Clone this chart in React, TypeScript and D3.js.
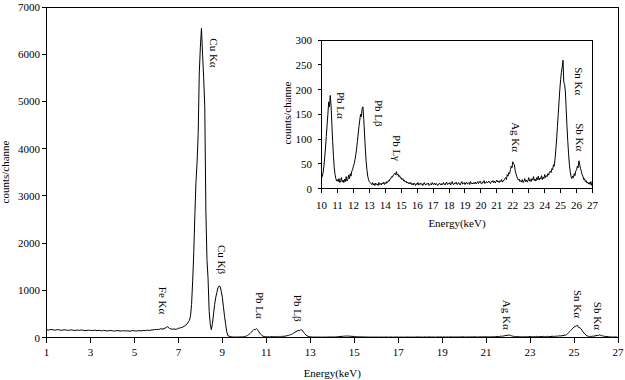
import React from "react";
import * as d3 from "d3";

// ---- spectrum data: each band = channel start energy (keV), channel step, counts ----
const lowStart = 1.0;
const lowStep = 0.1;
const lowCounts = [
  165, 158, 170, 162, 155, 168, 160, 152, 164, 158, 150,
  162, 155, 148, 158, 152, 160, 150, 145, 156, 150,
  148, 155, 145, 152, 140, 150, 143, 138, 150, 142,
  136, 148, 140, 135, 145, 138, 142, 132, 146, 140,
  138, 145, 140, 150, 146, 155, 150, 160, 165, 172,
  168, 185, 178, 200, 230, 190, 175, 180, 172, 195,
  205, 220, 250, 290,
];

const cuStart = 7.45;
const cuStep = 0.05;
const cuCounts = [
  330, 360, 450, 700, 1200, 1800, 2600, 3300, 3700, 4300, 5600, 6150, 6550,
  6000, 5500, 4900, 2700, 1650, 1250, 550, 280, 165, 300, 500, 700, 850, 950,
  1050, 1090, 1080, 980, 850, 650, 450, 280, 120, 40,
];

const highStart = 9.3;
const highStep = 0.05;
const countsA = [30, 20, 15, 12, 10, 12, 10, 11, 9, 12, 10, 13, 11, 15];
const countsB = [21, 25, 32, 45, 62, 82, 105, 128, 150, 175, 165, 188, 168, 130, 95, 65, 42, 28, 20, 15];
const countsC = [18, 14, 20, 12, 16, 22, 13, 17, 12, 19, 14, 24, 15, 18, 27, 20, 30, 25, 35, 38];
const countsD = [45, 50, 58, 68, 80, 95, 110, 125, 138, 150, 145, 162, 165, 140, 110, 80, 55, 38, 25, 18];
const countsE = [14, 12, 10, 8, 12, 7, 10, 6, 11, 8, 9, 6, 12, 8, 10, 7, 11, 9, 13, 8];
const countsF = [12, 10, 14, 12, 16, 15, 19, 20, 24, 23, 27, 28, 31, 28, 34, 27, 29, 24, 26, 21];
const countsG = [22, 18, 20, 15, 17, 13, 15, 11, 13, 10, 12, 9, 12, 8, 10, 7, 11, 9, 6, 10];
const countsH = [8, 12, 7, 9, 11, 8, 10, 6, 9, 12, 8, 7, 10, 9, 11, 6, 8, 10, 7, 12];
const countsI = [9, 8, 11, 7, 10, 9, 6, 8, 11, 9, 7, 10, 8, 12, 9, 7, 11, 13, 8, 10];
const countsJ = [9, 12, 7, 10, 14, 9, 8, 11, 10, 13, 8, 9, 12, 10, 7, 11, 14, 9, 10, 12];
const countsK = [8, 11, 13, 9, 10, 12, 8, 14, 10, 11, 9, 12, 10, 13, 9, 11, 14, 10, 12, 15];
const countsL = [11, 9, 13, 12, 16, 10, 12, 14, 11, 13, 15, 12, 10, 14, 13, 16, 12, 15, 11, 14];
const countsM = [17, 13, 15, 12, 16, 14, 18, 13, 15, 17, 20, 22, 18, 28, 25, 32, 30, 38, 45, 42];
const countsN = [54, 50, 48, 36, 30, 24, 20, 17, 19, 14, 16, 13, 18, 12, 15, 20, 14, 17, 13, 16];
const countsO = [22, 15, 18, 14, 20, 17, 24, 16, 19, 15, 22, 18, 25, 17, 21, 19, 26, 18, 23, 20];
const countsP = [28, 22, 26, 24, 30, 27, 33, 35, 32, 40, 38, 48, 45, 60, 78, 100, 125, 150, 175, 200];
const countsQ = [220, 235, 245, 259, 215, 210, 195, 160, 125, 95, 70, 48, 35, 25, 20, 25, 22, 30, 26, 35];
const countsR = [38, 45, 42, 56, 48, 40, 35, 28, 25, 18, 20, 14, 16, 11, 13, 9, 12, 8, 14, 6, 5];

// ---- axes ----
const mainXTicks = [1, 3, 5, 7, 9, 11, 13, 15, 17, 19, 21, 23, 25, 27];
const mainYTicks = [0, 1000, 2000, 3000, 4000, 5000, 6000, 7000];
const insetXTicks = [10, 11, 12, 13, 14, 15, 16, 17, 18, 19, 20, 21, 22, 23, 24, 25, 26, 27];
const insetYTicks = [0, 50, 100, 150, 200, 250, 300];
const xTitle = "Energy(keV)";
const yTitle = "counts/channe";

// ---- peak labels: text, energy, count (top of label) ----
const mainLabels: [string, number, number][] = [
  ["Cu Kα", 8.6, 6336],
  ["Cu Kβ", 8.97, 1960],
  ["Fe Kα", 6.3, 1072],
  ["Pb Lα", 10.7, 966],
  ["Pb Lβ", 12.42, 903],
  ["Ag Kα", 21.97, 797],
  ["Sn Kα", 25.2, 1008],
  ["Sb Kα", 26.11, 755],
];
const insetLabels: [string, number, number][] = [
  ["Pb Lα", 11.21, 195],
  ["Pb Lβ", 13.59, 179],
  ["Pb Lγ", 14.72, 108],
  ["Ag Kα", 22.19, 134],
  ["Sn Kα", 26.14, 245],
  ["Sb Kα", 26.2, 132],
];

type Pt = [number, number];
function band(start: number, step: number, counts: number[]): Pt[] {
  return counts.map((c, i) => [+(start + i * step).toFixed(3), c] as Pt);
}
const highSegments = [countsA, countsB, countsC, countsD, countsE, countsF, countsG, countsH, countsI, countsJ, countsK, countsL, countsM, countsN, countsO, countsP, countsQ, countsR];
const highCounts = highSegments.flat();
const spectrum: Pt[] = [
  ...band(lowStart, lowStep, lowCounts),
  ...band(cuStart, cuStep, cuCounts),
  ...band(highStart, highStep, highCounts),
];
const insetSpectrum = spectrum.filter((d) => d[0] >= 10 - 1e-6);

const FONT = "'Liberation Serif', 'Times New Roman', serif";

export default function App() {
  const W = 625, H = 380;
  const mx = d3.scaleLinear().domain([1, 27]).range([46.5, 618]);
  const my = d3.scaleLinear().domain([0, 7000]).range([337.5, 7]);
  const ix = d3.scaleLinear().domain([10, 27]).range([321.5, 592.5]);
  const iy = d3.scaleLinear().domain([0, 300]).range([188.5, 40]);

  const mainLine = d3.line<Pt>().x((d) => mx(d[0])).y((d) => my(d[1]))(spectrum) || "";
  const insetLine = d3.line<Pt>().x((d) => ix(d[0])).y((d) => iy(d[1]))(insetSpectrum) || "";

  const txt = { fontFamily: FONT, fontSize: 11, fill: "#000" } as const;

  return (
    <svg width={W} height={H} style={{ position: "absolute", left: 0, top: 0, background: "#fff" }}>
      <rect x={0} y={0} width={W} height={H} fill="#fff" />
      {/* main frame */}
      <g shapeRendering="crispEdges" stroke="#000" strokeWidth={1}>
        <line x1={mx(1)} x2={mx(27)} y1={my(7000)} y2={my(7000)} />
        <line x1={mx(27)} x2={mx(27)} y1={my(7000)} y2={my(0)} />
        <line x1={mx(1)} x2={mx(27)} y1={my(0)} y2={my(0)} />
        <line x1={mx(1)} x2={mx(1)} y1={my(7000)} y2={my(0)} />
        {mainYTicks.map((t) => (
          <line key={"myt" + t} x1={mx(1) - 5} x2={mx(1)} y1={my(t)} y2={my(t)} />
        ))}
        {mainXTicks.map((t) => (
          <line key={"mxt" + t} x1={mx(t)} x2={mx(t)} y1={my(0)} y2={my(0) + 5} />
        ))}
      </g>
      {mainYTicks.map((t) => (
        <text key={"myl" + t} {...txt} x={40} y={my(t)} textAnchor="end" dominantBaseline="central">
          {t}
        </text>
      ))}
      {mainXTicks.map((t) => (
        <text key={"mxl" + t} {...txt} x={mx(t)} y={352} textAnchor="middle" dominantBaseline="central">
          {t}
        </text>
      ))}
      <text {...txt} x={(mx(1) + mx(27)) / 2} y={373} textAnchor="middle" dominantBaseline="central">
        {xTitle}
      </text>
      <text {...txt} x={5} y={172} textAnchor="middle" dominantBaseline="central" transform="rotate(-90,5,172)">
        {yTitle}
      </text>
      <path d={mainLine} fill="none" stroke="#000" strokeWidth={1} />
      {mainLabels.map(([s, e, c]) => (
        <text key={"ml" + s} {...txt} x={mx(e)} y={my(c)} dominantBaseline="central" transform={`rotate(90,${mx(e)},${my(c)})`}>
          {s}
        </text>
      ))}

      {/* inset */}
      <rect x={ix(10)} y={iy(300)} width={ix(27) - ix(10)} height={iy(0) - iy(300)} fill="#fff" />
      <path d={insetLine} fill="none" stroke="#000" strokeWidth={1} />
      <g shapeRendering="crispEdges" stroke="#000" strokeWidth={1}>
        <rect x={ix(10)} y={iy(300)} width={ix(27) - ix(10)} height={iy(0) - iy(300)} fill="none" />
        {insetYTicks.map((t) => (
          <line key={"iyt" + t} x1={ix(10) - 4} x2={ix(10)} y1={iy(t)} y2={iy(t)} />
        ))}
        {insetXTicks.map((t) => (
          <line key={"ixt" + t} x1={ix(t)} x2={ix(t)} y1={iy(0)} y2={iy(0) + 4} />
        ))}
      </g>
      {insetYTicks.map((t) => (
        <text key={"iyl" + t} {...txt} x={312} y={iy(t)} textAnchor="end" dominantBaseline="central">
          {t}
        </text>
      ))}
      {insetXTicks.map((t) => (
        <text key={"ixl" + t} {...txt} x={ix(t)} y={205} textAnchor="middle" dominantBaseline="central">
          {t}
        </text>
      ))}
      <text {...txt} x={(ix(10) + ix(27)) / 2} y={223} textAnchor="middle" dominantBaseline="central">
        {xTitle}
      </text>
      <text {...txt} x={287} y={113} textAnchor="middle" dominantBaseline="central" transform="rotate(-90,287,113)">
        {yTitle}
      </text>
      {insetLabels.map(([s, e, c]) => (
        <text key={"il" + s} {...txt} x={ix(e)} y={iy(c)} dominantBaseline="central" transform={`rotate(90,${ix(e)},${iy(c)})`}>
          {s}
        </text>
      ))}
    </svg>
  );
}
